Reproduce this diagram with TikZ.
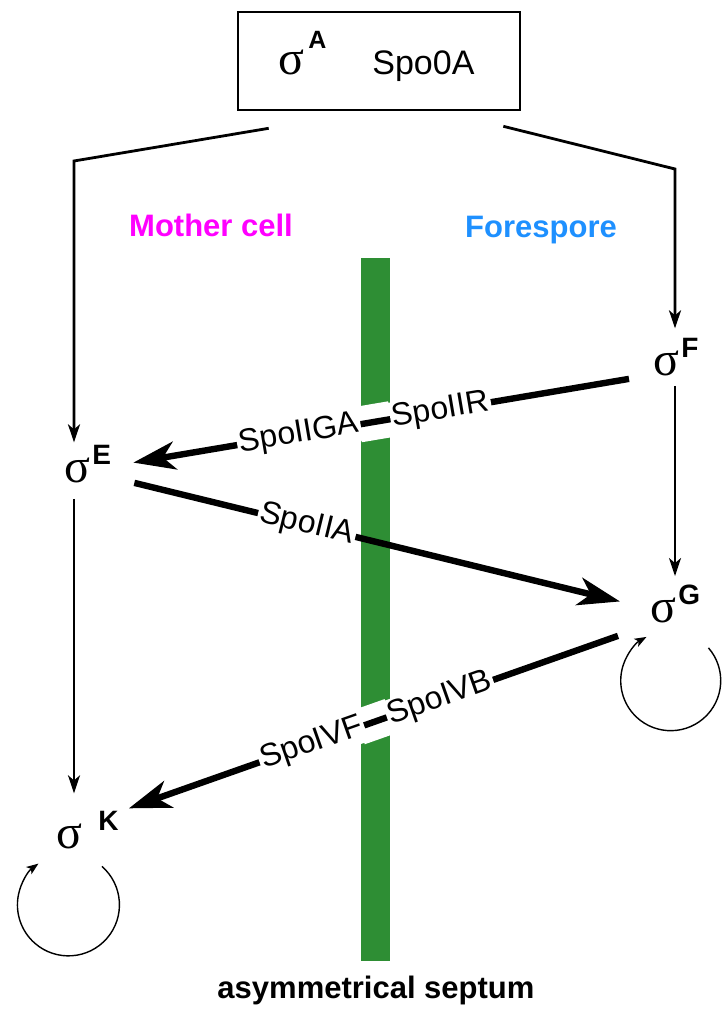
\documentclass[tikz,border=0pt]{standalone}
\usepackage{fontspec}
\setmainfont{Liberation Sans}
\newfontfamily\greekfont{Liberation Serif}
\usetikzlibrary{arrows.meta, positioning, calc}

\definecolor{septumgreen}{RGB}{46,142,52}
\definecolor{mothermagenta}{RGB}{255,0,255}
\definecolor{foreblue}{RGB}{30,144,255}

% sigma factor with its letter
\newcommand{\sigmaup}[2][1pt]{{\greekfont\fontsize{24}{24}\selectfont σ}\kern#1\raisebox{9pt}{\fontsize{14}{14}\selectfont\bfseries #2}}

\begin{document}
\begin{tikzpicture}[
    x=0.5pt, y=-0.5pt,
    sigma/.style = {inner sep=0pt, anchor=base west},
    protein/.style = {sloped, fill=white, inner sep=1pt, font=\fontsize{16}{16}\selectfont},
    gapband/.style = {draw=white, line width=18pt},
    region/.style = {font=\fontsize{15.5}{15.5}\selectfont\bfseries},
    cascade/.style = {line width=1.1pt, -{Stealth[length=9pt, width=6pt, inset=2.5pt]}},
    transduce/.style = {line width=3.2pt, -{Stealth[length=21pt, width=14pt, inset=6pt]}},
    autoloop/.style = {line width=0.7pt, -{Stealth[length=6pt, width=4.5pt, inset=1.5pt]}},
]
\useasboundingbox (0,0) rectangle (722,1010);

% Septum
\node[fill=septumgreen, minimum width=14.5pt, minimum height=351.5pt, inner sep=0pt] (septum) at (375.5,609.5) {};
\node[region] (septlabel) at (376,990) {asymmetrical septum};

% Top box
\node[draw, line width=1.3pt, minimum width=141pt, minimum height=49pt, inner sep=0pt] (box) at (379,61) {};
\node[sigma] (sA) at (278,75) {{\greekfont\fontsize{24}{24}\selectfont σ}\kern2pt\raisebox{13pt}{\fontsize{12.5}{12.5}\selectfont\bfseries A}};
\node[sigma, font=\fontsize{17}{17}\selectfont] (spo) at (372,75) {Spo0A};

% Compartments
\node[region, text=mothermagenta] (mother) at (211,225) {Mother cell};
\node[region, text=foreblue] (fore) at (541,230) {Forespore};

% Sigma factors
\node[sigma] (sF) at (653,375) {\sigmaup{F}};
\node[sigma] (sE) at (64,482) {\sigmaup{E}};
\node[sigma] (sG) at (650,622) {\sigmaup{G}};
\node[sigma] (sK) at (56,848) {\sigmaup[8pt]{K}};

\coordinate (lc) at (74,161);
\coordinate (rc) at (675,169);

% Cascade arrows
\draw[cascade, line width=1.4pt, shorten >=1pt] ([shift={(32,17)}]box.south west) -- (lc) -- (lc |- sE.north);
\draw[cascade, line width=1.4pt, shorten >=4.5pt] ([shift={(-18,15)}]box.south east) -- (rc) -- (rc |- sF.north);
\draw[cascade, shorten <=5pt, shorten >=4pt] (sF.south -| rc) -- (sG.north -| rc);
\draw[cascade, shorten <=8pt, shorten >=8.5pt] (sE.south -| lc) -- (sK.north -| lc);

% Signals across the septum
\coordinate (f1) at ([shift={(-24,3)}]sF.south west);
\coordinate (e1) at ([shift={(22,-1)}]sE.east);
\coordinate (e2) at ([shift={(23,0)}]sE.south east);
\coordinate (g2) at ([shift={(-30,-2)}]sG.west);
\coordinate (g3) at ([shift={(-32,13)}]sG.south west);
\coordinate (k3) at ([shift={(10,-2)}]sK.north east);

% white break in the septum
\path[gapband] ($(f1)!0.48!(e1)$) -- ($(f1)!0.545!(e1)$);
\path[gapband] ($(g3)!0.465!(k3)$) -- ($(g3)!0.53!(k3)$);

\draw[transduce] (f1) -- node[protein, pos=0.38] (iir) {SpoIIR} node[protein, pos=0.666] (iiga) {SpoIIGA} (e1);
\draw[transduce] (e2) -- node[protein, pos=0.355] (iia) {SpoIIA} (g2);
\draw[transduce] (g3) -- node[protein, pos=0.364] (ivb) {SpoIVB} node[protein, pos=0.626] (ivf) {SpoIVF} (k3);

% Autoregulation
\draw[autoloop] ([shift={(8,25)}]sG.south east) arc[start angle=-41, end angle=241, radius=50];
\draw[autoloop] ([shift={(-17,17.5)}]sK.south east) arc[start angle=-49, end angle=234, radius=51];

\end{tikzpicture}
\end{document}
